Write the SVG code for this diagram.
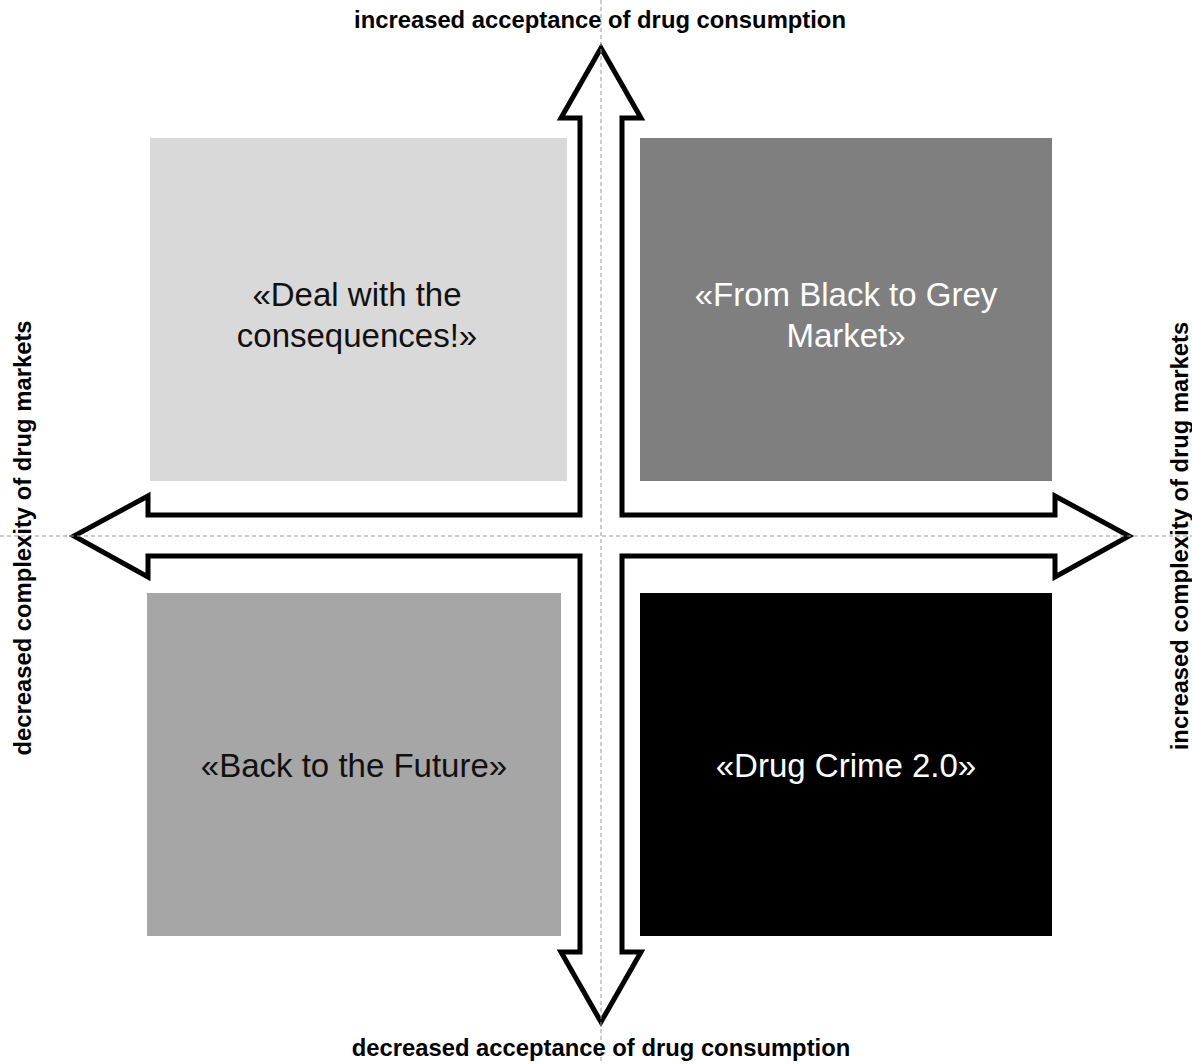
<svg xmlns="http://www.w3.org/2000/svg" width="1192" height="1064" viewBox="0 0 1192 1064">
  <style>
    .box-text { font-family: "Liberation Sans", Arial, sans-serif; font-size: 33px; text-anchor: middle; }
    .axis-label { font-family: "Liberation Sans", Arial, sans-serif; font-size: 23.8px; font-weight: bold; text-anchor: middle; fill: #000; }
    .guide { stroke: #999; stroke-width: 1; stroke-dasharray: 4 3; fill: none; }
  </style>
  <rect width="1192" height="1064" fill="#fff"/>

  <g id="quadrant-deal">
    <rect x="150" y="138" width="417" height="343" fill="#d9d9d9"/>
    <text class="box-text" x="357" y="306" fill="#111">«Deal with the</text>
    <text class="box-text" x="357" y="347" fill="#111">consequences!»</text>
  </g>
  <g id="quadrant-grey-market">
    <rect x="640" y="138" width="412" height="343" fill="#7f7f7f"/>
    <text class="box-text" x="846" y="306" fill="#fff">«From Black to Grey</text>
    <text class="box-text" x="846" y="347" fill="#fff">Market»</text>
  </g>
  <g id="quadrant-back-future">
    <rect x="147" y="593" width="414" height="343" fill="#a6a6a6"/>
    <text class="box-text" x="354" y="777" fill="#111">«Back to the Future»</text>
  </g>
  <g id="quadrant-drug-crime">
    <rect x="640" y="593" width="412" height="343" fill="#000"/>
    <text class="box-text" x="846" y="777" fill="#fff">«Drug Crime 2.0»</text>
  </g>

  <g id="connectors">
    <polygon points="601,48 641,118 622,118 622,515 1055,515 1055,496 1129,536 1055,577 1055,556 622,556 622,952 641,952 601,1022 561,952 580,952 580,556 148,556 148,577 74,536 148,496 148,515 580,515 580,118 561,118" fill="#fff" stroke="#000" stroke-width="5" stroke-linejoin="miter"/>
    <line class="guide" x1="601" y1="0" x2="601" y2="1064"/>
    <line class="guide" x1="0" y1="536" x2="1192" y2="536"/>
  </g>

  <g id="axis-labels">
    <text class="axis-label" x="600" y="28">increased acceptance of drug consumption</text>
    <text class="axis-label" x="601" y="1056">decreased acceptance of drug consumption</text>
    <text class="axis-label" transform="translate(31,538) rotate(-90)">decreased complexity of drug markets</text>
    <text class="axis-label" transform="translate(1188,536) rotate(-90)">increased complexity of drug markets</text>
  </g>
</svg>
